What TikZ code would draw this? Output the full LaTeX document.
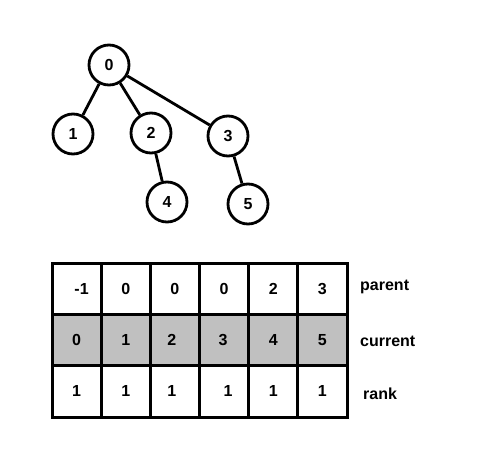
\documentclass[tikz,border=0pt]{standalone}
\usepackage{fontspec}
\setmainfont{Liberation Sans}
\definecolor{cellgray}{RGB}{192,192,192}
\begin{document}
\begin{tikzpicture}[x=1pt, y=-1pt,
    vertex/.style={circle, draw, line width=2.8pt, minimum size=40pt, inner sep=0pt,
        font=\bfseries\fontsize{16}{19}\selectfont},
    edge/.style={line width=2.8pt},
    cell/.style={rectangle, draw, line width=3pt, minimum width=49.17pt,
        minimum height=51.33pt, inner sep=0pt},
    val/.style={font=\bfseries\fontsize{16}{19}\selectfont, inner sep=0pt},
    rowname/.style={font=\bfseries\fontsize{16}{19}\selectfont, inner sep=0pt, anchor=base west}]
    \useasboundingbox (0,0) rectangle (495,466);

    % Tree
    \node[vertex] (n0) at (109,65) {0};
    \node[vertex] (n1) at (73,134) {1};
    \node[vertex] (n2) at (151,133) {2};
    \node[vertex] (n3) at (228,136) {3};
    \node[vertex] (n4) at (167,202) {4};
    \node[vertex] (n5) at (248,204) {5};

    \draw[edge] (n0) -- (n1);
    \draw[edge] (n0) -- (n2);
    \draw[edge] (n0) -- (n3);
    \draw[edge] (n2) -- (n4);
    \draw[edge] (n3) -- (n5);

    % Table: parent row
    \foreach \v/\s [count=\i] in {-1/5,0/0,0/0,0/0,2/0,3/0} {
        \node[cell] (p\i) at ({52+49.17*(\i-0.5)}, 288.67) {};
        \node[val] at ([xshift=\s pt]p\i) {\v};
    }
    % current row
    \foreach \v/\s [count=\i] in {0/0,1/0,2/-3,3/-1,4/0,5/0} {
        \node[cell, fill=cellgray] (c\i) at ({52+49.17*(\i-0.5)}, 340) {};
        \node[val] at ([xshift=\s pt]c\i) {\v};
    }
    % rank row
    \foreach \v/\s [count=\i] in {1/0,1/0,1/-3,1/4,1/0,1/0} {
        \node[cell] (r\i) at ({52+49.17*(\i-0.5)}, 391.33) {};
        \node[val] at ([xshift=\s pt]r\i) {\v};
    }

    % Row names
    \node[rowname] (lp) at (360,290.7) {parent};
    \node[rowname] (lc) at (360,346.7) {current};
    \node[rowname] (lr) at (363,399) {rank};
\end{tikzpicture}
\end{document}
